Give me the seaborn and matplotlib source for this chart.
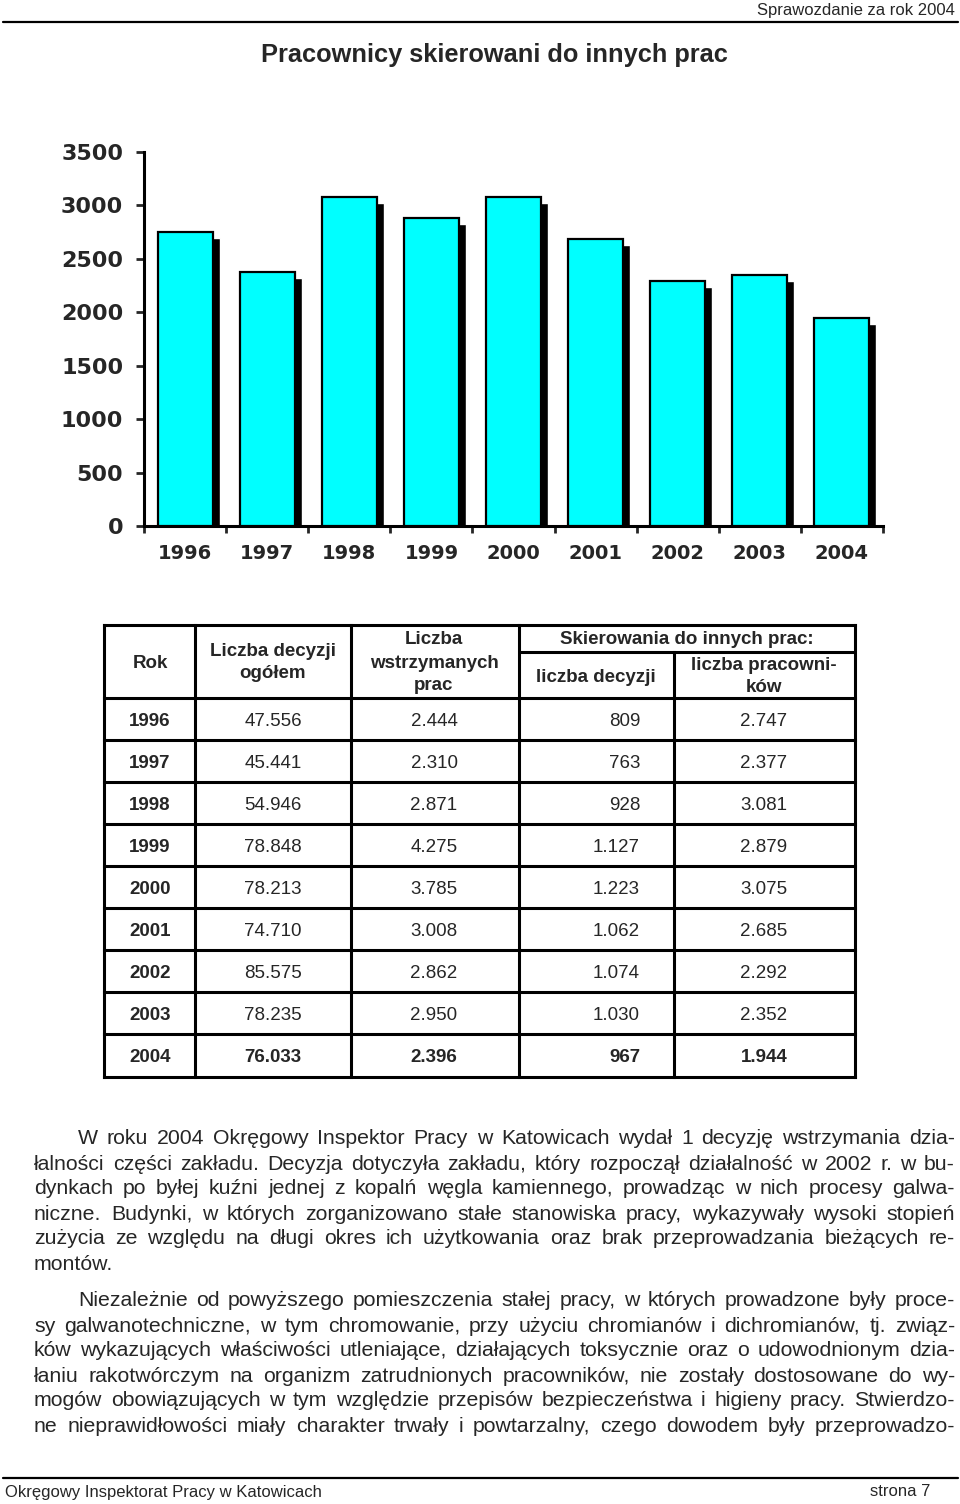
import numpy as np
import matplotlib
matplotlib.use("Agg")
import matplotlib.pyplot as plt
import seaborn as sns

# Data
years = ["1996", "1997", "1998", "1999", "2000", "2001", "2002", "2003", "2004"]
decisions_total = ["47.556", "45.441", "54.946", "78.848", "78.213", "74.710", "85.575", "78.235", "76.033"]
stopped_works = ["2.444", "2.310", "2.871", "4.275", "3.785", "3.008", "2.862", "2.950", "2.396"]
redirect_decisions = ["809", "763", "928", "1.127", "1.223", "1.062", "1.074", "1.030", "967"]
redirect_workers = ["2.747", "2.377", "3.081", "2.879", "3.075", "2.685", "2.292", "2.352", "1.944"]
workers = np.array([2747, 2377, 3081, 2879, 3075, 2685, 2292, 2352, 1944])
y_ticks = [0, 500, 1000, 1500, 2000, 2500, 3000, 3500]

para1 = [
    "W roku 2004 Okręgowy Inspektor Pracy w Katowicach wydał 1 decyzję wstrzymania dzia-",
    "łalności części zakładu. Decyzja dotyczyła zakładu, który rozpoczął działalność w 2002 r. w bu-",
    "dynkach po byłej kuźni jednej z kopalń węgla kamiennego, prowadząc w nich procesy galwa-",
    "niczne. Budynki, w których zorganizowano stałe stanowiska pracy, wykazywały wysoki stopień",
    "zużycia ze względu na długi okres ich użytkowania oraz brak przeprowadzania bieżących re-",
    "montów.",
]
para2 = [
    "Niezależnie od powyższego pomieszczenia stałej pracy, w których prowadzone były proce-",
    "sy galwanotechniczne, w tym chromowanie, przy użyciu chromianów i dichromianów, tj. związ-",
    "ków wykazujących właściwości utleniające, działających toksycznie oraz o udowodnionym dzia-",
    "łaniu rakotwórczym na organizm zatrudnionych pracowników, nie zostały dostosowane do wy-",
    "mogów obowiązujących w tym względzie przepisów bezpieczeństwa i higieny pracy. Stwierdzo-",
    "ne nieprawidłowości miały charakter trwały i powtarzalny, czego dowodem były przeprowadzo-",
]

sns.set_style("white")
plt.rcParams['font.family'] = ['Liberation Sans', 'DejaVu Sans']

W, H = 960, 1504
fig = plt.figure(figsize=(W / 100, H / 100), dpi=100)

# page axes in pixel coordinates
page = fig.add_axes([0, 0, 1, 1])
page.set_xlim(0, W)
page.set_ylim(H, 0)
page.axis("off")

# header / footer
page.plot([3, 958], [22, 22], color="black", lw=1.6)
page.text(955, 10, "Sprawozdanie za rok 2004", ha="right", va="center", fontsize=12)
page.text(494, 55, "Pracownicy skierowani do innych prac", ha="center", va="center",
          fontsize=18.3, fontweight="bold")
page.plot([3, 958], [1478, 1478], color="black", lw=1.6)
page.text(5, 1492, "Okręgowy Inspektorat Pracy w Katowicach", ha="left", va="center", fontsize=12)
page.text(930, 1492, "strona 7", ha="right", va="center", fontsize=12)

# bar chart
x0, x1, ytop, ybot = 144, 883, 152, 526
ax = fig.add_axes([x0 / W, 1 - ybot / H, (x1 - x0) / W, (ybot - ytop) / H])
ax.bar(np.arange(len(workers)) + 0.085, workers - 56, width=0.67, color="black", zorder=1)
sns.barplot(x=years, y=workers, color="#00FFFF", saturation=1, edgecolor="black",
            linewidth=1.6, width=0.67, ax=ax, zorder=3)
ax.set_xlim(-0.5, len(years) - 0.5)
ax.set_ylim(0, 3500)
ax.set_yticks(y_ticks)
ax.set_yticklabels([str(v) for v in y_ticks], fontsize=16, fontweight="bold",
                   fontfamily="DejaVu Sans")
ax.set_xticklabels(years, fontsize=14, fontweight="bold", fontfamily="DejaVu Sans")
ax.set_xticks(np.arange(len(years) + 1) - 0.5, minor=True)
ax.tick_params(axis="x", which="major", length=0, pad=13)
ax.tick_params(axis="x", which="minor", length=5, width=2, direction="out", bottom=True)
ax.tick_params(axis="y", length=6, width=2, direction="out", pad=9, left=True)
ax.set_xlabel("")
ax.set_ylabel("")
for s in ["top", "right"]:
    ax.spines[s].set_visible(False)
for s in ["left", "bottom"]:
    ax.spines[s].set_linewidth(2.2)
    ax.spines[s].set_color("black")
ax.set_facecolor("none")

# table
cols = [104, 195, 351, 519, 674, 855]
rows = [625, 698] + [698 + 42 * (i + 1) for i in range(8)] + [1077]
lw = 2.2
for j, xc in enumerate(cols):
    ystart = 652 if j == 4 else rows[0]
    page.plot([xc, xc], [ystart, rows[-1]], color="black", lw=lw, solid_capstyle="projecting")
for yr in rows:
    page.plot([cols[0], cols[-1]], [yr, yr], color="black", lw=lw, solid_capstyle="projecting")
page.plot([cols[3], cols[5]], [652, 652], color="black", lw=lw)

hf = dict(fontsize=13.5, fontweight="bold", ha="center", va="center_baseline")
page.text(150, 661, "Rok", **hf)
page.text(273, 650, "Liczba decyzji", **hf)
page.text(273, 672, "ogółem", **hf)
page.text(434, 638, "Liczba", **hf)
page.text(434, 661, "wstrzymanych", **hf)
page.text(434, 684, "prac", **hf)
page.text(687, 638, "Skierowania do innych prac:", **hf)
page.text(596, 675, "liczba decyzji", **hf)
page.text(764, 664, "liczba pracowni-", **hf)
page.text(764, 686, "ków", **hf)

for i in range(len(years)):
    yc = 720 + 42 * i
    bold = "bold" if i == len(years) - 1 else "normal"
    kw = dict(va="center_baseline", fontsize=13.5)
    page.text(150, yc, years[i], ha="center", fontweight="bold", **kw)
    page.text(273, yc, decisions_total[i], ha="center", fontweight=bold, **kw)
    page.text(434, yc, stopped_works[i], ha="center", fontweight=bold, **kw)
    page.text(640, yc, redirect_decisions[i], ha="right", fontweight=bold, **kw)
    page.text(764, yc, redirect_workers[i], ha="center", fontweight=bold, **kw)

# justified paragraphs
renderer = fig.canvas.get_renderer()


def put_line(text, left, right, y, justify=True, size=15.3):
    words = text.split(" ")
    if not justify or len(words) == 1:
        page.text(left, y, text, ha="left", va="center_baseline", fontsize=size)
        return
    arts = [page.text(0, y, w, ha="left", va="center_baseline", fontsize=size) for w in words]
    widths = [a.get_window_extent(renderer).width for a in arts]
    gap = (right - left - sum(widths)) / (len(words) - 1)
    xpos = left
    for a, wd in zip(arts, widths):
        a.set_x(xpos)
        xpos += wd + gap


for para, y0 in [(para1, 1137), (para2, 1299)]:
    for k, line in enumerate(para):
        left = 78 if k == 0 else 34
        last = (k == len(para) - 1) and para is para1
        put_line(line, left, 955, y0 + 25 * k, justify=not last)

fig.savefig("out.png", dpi=100)
